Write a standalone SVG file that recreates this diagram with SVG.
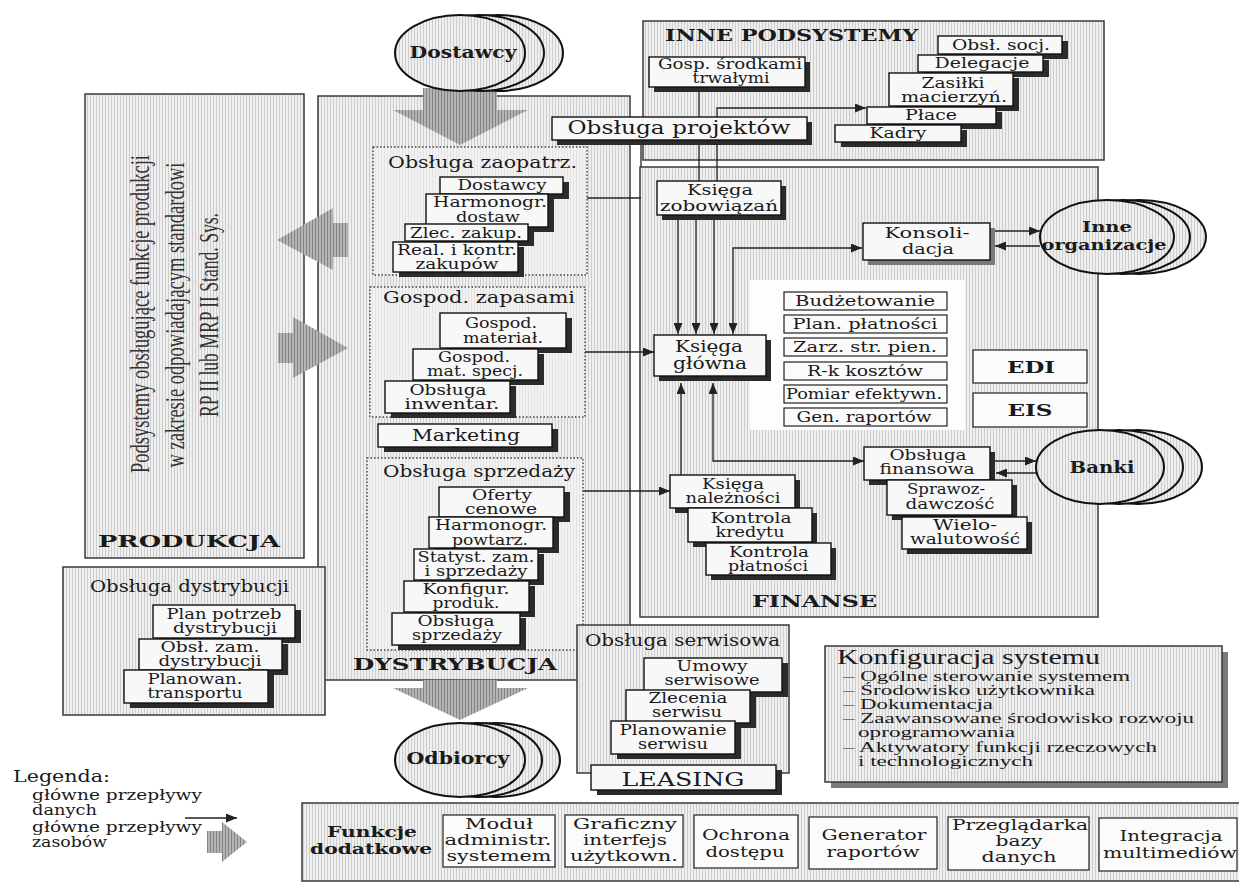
<svg xmlns="http://www.w3.org/2000/svg" width="1239" height="884" viewBox="0 0 1239 884">
<defs>
  <!-- screen tone used for panels and ellipses -->
  <pattern id="tone" width="3" height="3" patternUnits="userSpaceOnUse">
    <rect width="3" height="3" fill="#efefef"/>
    <rect width="1" height="3" fill="#cdcdcd"/>
  </pattern>
  <pattern id="toneDark" width="3" height="3" patternUnits="userSpaceOnUse">
    <rect width="3" height="3" fill="#b4b4b4"/>
    <rect width="1" height="3" fill="#848484"/>
  </pattern>
  <marker id="ah" viewBox="0 0 11 9" refX="11" refY="4.5" markerWidth="11" markerHeight="9" markerUnits="userSpaceOnUse" orient="auto-start-reverse">
    <path d="M0,0 L11,4.5 L0,9 z" fill="#222"/>
  </marker>
</defs>
<style>
  .panel{fill:url(#tone);stroke:#3a3a3a;stroke-width:1.5}
  .dot{fill:#f3f3f3;fill-opacity:.6;stroke:#444;stroke-width:1.4;stroke-dasharray:1.5 2}
  .box{fill:#f8f8f8;stroke:#111;stroke-width:1.4}
  .sh{fill:#2b2b2b}
  .shl{fill:#7a7a7a}
  .plain{fill:#fbfbfb;stroke:#222;stroke-width:1.2}
  .ell{fill:url(#tone);stroke:#111;stroke-width:2}
  .big{fill:url(#toneDark)}
  .t{font-family:"DejaVu Serif",serif;font-size:14px;fill:#1a1a1a;text-anchor:middle}
  .l{text-anchor:start}
  .b{font-weight:bold}
  .m{font-size:16px}
  .n{font-size:15px}
  .xl{font-size:19px}
  .cfg{font-family:"Liberation Serif",serif;font-size:14px}
  .vt{font-family:"Liberation Serif",serif;font-size:27px;fill:#333;text-anchor:middle}
  .ln{fill:none;stroke:#222;stroke-width:1.3}
  .arr{marker-end:url(#ah)}
  .arr2{marker-start:url(#ah);marker-end:url(#ah)}
</style>

<!-- ===== large panels ===== -->
<g id="produkcja">
  <rect class="panel" x="85" y="94" width="219" height="464"/>
  <text class="vt" x="149" y="314" transform="rotate(-90 149 314)" textLength="318" lengthAdjust="spacingAndGlyphs">Podsystemy obsługujące funkcje produkcji</text>
  <text class="vt" x="184" y="315" transform="rotate(-90 184 315)" textLength="305" lengthAdjust="spacingAndGlyphs">w zakresie odpowiadającym standardowi</text>
  <text class="vt" x="218" y="315" transform="rotate(-90 218 315)" textLength="204" lengthAdjust="spacingAndGlyphs">RP II lub MRP II Stand. Sys.</text>
  <text class="t l b m" x="98" y="547" textLength="182" lengthAdjust="spacingAndGlyphs">PRODUKCJA</text>
</g>

<g id="dystrybucja">
  <rect class="panel" x="318" y="96" width="312" height="584"/>
  <text class="t l b m" x="353" y="670" textLength="204" lengthAdjust="spacingAndGlyphs">DYSTRYBUCJA</text>
</g>

<g id="inne-podsystemy">
  <rect class="panel" x="643" y="21" width="461" height="139"/>
  <text class="t l b m" x="665" y="41" textLength="253" lengthAdjust="spacingAndGlyphs">INNE PODSYSTEMY</text>
</g>

<g id="finanse">
  <rect class="panel" x="640" y="167" width="458" height="450"/>
  <rect x="750" y="280" width="215" height="150" fill="#fdfdfd"/>
  <text class="t l b m" x="752" y="607" textLength="125" lengthAdjust="spacingAndGlyphs">FINANSE</text>
</g>

<!-- ===== resource flows (thick grey arrows) ===== -->
<g id="flow-dostawcy"><polygon class="big" points="423,88 497,88 497,110 528,110 460,145 393,110 423,110"/></g>
<g id="flow-do-produkcji"><polygon class="big" points="348,223 348,257 333,257 333,270 277,240 333,208 333,223"/></g>
<g id="flow-z-produkcji"><polygon class="big" points="278,333 293,333 293,317 348,348 293,378 293,363 278,363"/></g>
<g id="flow-odbiorcy"><polygon class="big" points="423,680 497,680 497,688 528,688 460,720 393,688 423,688"/></g>

<!-- ===== external parties ===== -->
<g id="dostawcy">
  <ellipse class="ell" cx="498" cy="53" rx="65" ry="38"/>
  <ellipse class="ell" cx="479" cy="53" rx="65" ry="38"/>
  <ellipse class="ell" cx="460" cy="53" rx="65" ry="38"/>
  <text class="t b m" x="463" y="58" textLength="107" lengthAdjust="spacingAndGlyphs">Dostawcy</text>
</g>
<g id="odbiorcy">
  <ellipse class="ell" cx="495" cy="760" rx="65" ry="37"/>
  <ellipse class="ell" cx="477" cy="760" rx="65" ry="37"/>
  <ellipse class="ell" cx="460" cy="760" rx="65" ry="37"/>
  <text class="t b m" x="458" y="764" textLength="103" lengthAdjust="spacingAndGlyphs">Odbiorcy</text>
</g>
<g id="inne-organizacje">
  <ellipse class="ell" cx="1139" cy="237" rx="67" ry="37"/>
  <ellipse class="ell" cx="1123" cy="237" rx="67" ry="37"/>
  <ellipse class="ell" cx="1107" cy="237" rx="67" ry="37"/>
  <text class="t b n" x="1107" y="232" textLength="50" lengthAdjust="spacingAndGlyphs">Inne</text>
  <text class="t b n" x="1104" y="250" textLength="125" lengthAdjust="spacingAndGlyphs">organizacje</text>
</g>
<g id="banki">
  <ellipse class="ell" cx="1138" cy="467" rx="64" ry="37"/>
  <ellipse class="ell" cx="1119" cy="467" rx="64" ry="37"/>
  <ellipse class="ell" cx="1100" cy="467" rx="64" ry="37"/>
  <text class="t b m" x="1102" y="473" textLength="65" lengthAdjust="spacingAndGlyphs">Banki</text>
</g>

<!-- ===== data flows ===== -->
<g id="connectors">
  <path class="ln" d="M699 87V117"/>
  <path class="ln" d="M699 140V181M717 140V181"/>
  <path class="ln arr" d="M717 117V108H866"/>
  <path class="ln" d="M587 198H641"/>
  <path class="ln" d="M641 140V167"/>
  <path class="ln arr" d="M678 215V334"/>
  <path class="ln arr" d="M696 215V334"/>
  <path class="ln arr" d="M714 215V334"/>
  <path class="ln arr2" d="M733 334V248H862"/>
  <path class="ln arr" d="M585 352H654"/>
  <path class="ln arr" d="M583 491H670"/>
  <path class="ln arr" d="M681 475V383"/>
  <path class="ln arr2" d="M713 383V461H864"/>
  <path class="ln arr" d="M990 231H1040"/>
  <path class="ln arr" d="M1040 246H995"/>
  <path class="ln arr" d="M990 461H1036"/>
  <path class="ln arr" d="M1036 473H996"/>
</g>

<!-- ===== other subsystems ===== -->
<g id="gosp-srodkami">
  <rect class="sh" x="654" y="62" width="156" height="30"/>
  <rect class="box" x="649" y="57" width="156" height="30"/>
  <text class="t" x="730" y="69" textLength="144" lengthAdjust="spacingAndGlyphs">Gosp. środkami</text>
  <text class="t" x="731" y="83" textLength="77" lengthAdjust="spacingAndGlyphs">trwałymi</text>
</g>
<g id="obsl-socj">
  <rect class="sh" x="944" y="41" width="124" height="18"/>
  <rect class="box" x="938" y="36" width="124" height="18"/>
  <text class="t" x="1001" y="50" textLength="98" lengthAdjust="spacingAndGlyphs">Obsł. socj.</text>
</g>
<g id="delegacje">
  <rect class="sh" x="924" y="60" width="125" height="17"/>
  <rect class="box" x="918" y="55" width="125" height="17"/>
  <text class="t" x="982" y="68" textLength="95" lengthAdjust="spacingAndGlyphs">Delegacje</text>
</g>
<g id="zasilki">
  <rect class="sh" x="895" y="78" width="124" height="33"/>
  <rect class="box" x="889" y="73" width="124" height="33"/>
  <text class="t" x="953" y="88" textLength="63" lengthAdjust="spacingAndGlyphs">Zasiłki</text>
  <text class="t" x="954" y="102" textLength="106" lengthAdjust="spacingAndGlyphs">macierzyń.</text>
</g>
<g id="place">
  <rect class="sh" x="873" y="112" width="129" height="17"/>
  <rect class="box" x="867" y="107" width="129" height="17"/>
  <text class="t" x="931" y="120" textLength="52" lengthAdjust="spacingAndGlyphs">Płace</text>
</g>
<g id="kadry">
  <rect class="sh" x="841" y="130" width="126" height="17"/>
  <rect class="box" x="835" y="125" width="126" height="17"/>
  <text class="t" x="898" y="138" textLength="57" lengthAdjust="spacingAndGlyphs">Kadry</text>
</g>
<g id="obsluga-projektow">
  <rect class="sh" x="557" y="122" width="255" height="23"/>
  <rect class="box" x="552" y="117" width="255" height="23"/>
  <text class="t xl" x="679" y="134" textLength="223" lengthAdjust="spacingAndGlyphs">Obsługa projektów</text>
</g>

<!-- ===== finance ===== -->
<g id="ksiega-zobowiazan">
  <rect class="sh" x="662" y="186" width="124" height="34"/>
  <rect class="box" x="657" y="181" width="124" height="34"/>
  <text class="t" x="720" y="195" textLength="66" lengthAdjust="spacingAndGlyphs">Księga</text>
  <text class="t" x="719" y="211" textLength="118" lengthAdjust="spacingAndGlyphs">zobowiązań</text>
</g>
<g id="konsolidacja">
  <rect class="shl" x="868" y="228" width="127" height="37"/>
  <rect class="box" x="863" y="223" width="127" height="37"/>
  <text class="t n" x="927" y="238" textLength="85" lengthAdjust="spacingAndGlyphs">Konsoli-</text>
  <text class="t n" x="928" y="254" textLength="52" lengthAdjust="spacingAndGlyphs">dacja</text>
</g>
<g id="ksiega-glowna">
  <rect class="sh" x="659" y="340" width="112" height="41"/>
  <rect class="box" x="654" y="335" width="112" height="41"/>
  <text class="t m" x="709" y="352" textLength="68" lengthAdjust="spacingAndGlyphs">Księga</text>
  <text class="t m" x="710" y="369" textLength="74" lengthAdjust="spacingAndGlyphs">główna</text>
</g>
<g id="budzetowanie">
  <rect class="plain" x="784" y="292" width="163" height="18"/>
  <text class="t" x="865" y="306" textLength="140" lengthAdjust="spacingAndGlyphs">Budżetowanie</text>
</g>
<g id="plan-platnosci">
  <rect class="plain" x="784" y="315" width="163" height="18"/>
  <text class="t" x="865" y="329" textLength="145" lengthAdjust="spacingAndGlyphs">Plan. płatności</text>
</g>
<g id="zarz-str-pien">
  <rect class="plain" x="784" y="338" width="163" height="18"/>
  <text class="t" x="865" y="352" textLength="144" lengthAdjust="spacingAndGlyphs">Zarz. str. pien.</text>
</g>
<g id="rk-kosztow">
  <rect class="plain" x="784" y="362" width="163" height="18"/>
  <text class="t" x="865" y="376" textLength="116" lengthAdjust="spacingAndGlyphs">R-k kosztów</text>
</g>
<g id="pomiar">
  <rect class="plain" x="784" y="385" width="163" height="18"/>
  <text class="t" x="864" y="399" textLength="156" lengthAdjust="spacingAndGlyphs">Pomiar efektywn.</text>
</g>
<g id="gen-raportow">
  <rect class="plain" x="784" y="408" width="163" height="18"/>
  <text class="t" x="864" y="422" textLength="135" lengthAdjust="spacingAndGlyphs">Gen. raportów</text>
</g>
<g id="edi">
  <rect class="plain" x="973" y="350" width="114" height="33"/>
  <text class="t b m" x="1031" y="373" textLength="48" lengthAdjust="spacingAndGlyphs">EDI</text>
</g>
<g id="eis">
  <rect class="plain" x="973" y="393" width="114" height="34"/>
  <text class="t b m" x="1030" y="416" textLength="45" lengthAdjust="spacingAndGlyphs">EIS</text>
</g>
<g id="ksiega-naleznosci">
  <rect class="sh" x="675" y="480" width="125" height="33"/>
  <rect class="box" x="670" y="475" width="125" height="33"/>
  <text class="t" x="733" y="489" textLength="62" lengthAdjust="spacingAndGlyphs">Księga</text>
  <text class="t" x="733" y="503" textLength="95" lengthAdjust="spacingAndGlyphs">należności</text>
</g>
<g id="kontrola-kredytu">
  <rect class="sh" x="693" y="513" width="124" height="34"/>
  <rect class="box" x="688" y="508" width="124" height="34"/>
  <text class="t" x="751" y="523" textLength="81" lengthAdjust="spacingAndGlyphs">Kontrola</text>
  <text class="t" x="750" y="537" textLength="69" lengthAdjust="spacingAndGlyphs">kredytu</text>
</g>
<g id="kontrola-platnosci">
  <rect class="sh" x="711" y="548" width="125" height="32"/>
  <rect class="box" x="706" y="543" width="125" height="32"/>
  <text class="t" x="769" y="557" textLength="80" lengthAdjust="spacingAndGlyphs">Kontrola</text>
  <text class="t" x="768" y="571" textLength="80" lengthAdjust="spacingAndGlyphs">płatności</text>
</g>
<g id="obsluga-finansowa">
  <rect class="sh" x="869" y="452" width="126" height="33"/>
  <rect class="box" x="864" y="447" width="126" height="33"/>
  <text class="t" x="928" y="460" textLength="77" lengthAdjust="spacingAndGlyphs">Obsługa</text>
  <text class="t" x="927" y="474" textLength="95" lengthAdjust="spacingAndGlyphs">finansowa</text>
</g>
<g id="sprawozdawczosc">
  <rect class="sh" x="892" y="485" width="125" height="35"/>
  <rect class="box" x="887" y="480" width="125" height="35"/>
  <text class="t" x="946" y="494" textLength="78" lengthAdjust="spacingAndGlyphs">Sprawoz-</text>
  <text class="t" x="950" y="509" textLength="89" lengthAdjust="spacingAndGlyphs">dawczość</text>
</g>
<g id="wielowalutowosc">
  <rect class="sh" x="907" y="522" width="125" height="32"/>
  <rect class="box" x="902" y="517" width="125" height="32"/>
  <text class="t" x="965" y="530" textLength="64" lengthAdjust="spacingAndGlyphs">Wielo-</text>
  <text class="t" x="965" y="544" textLength="110" lengthAdjust="spacingAndGlyphs">walutowość</text>
</g>

<!-- ===== distribution: purchasing ===== -->
<g id="obsluga-zaopatrz">
  <rect class="dot" x="373" y="147" width="214" height="128"/>
  <text class="t l m" x="388" y="168" textLength="189" lengthAdjust="spacingAndGlyphs">Obsługa zaopatrz.</text>
</g>
<g id="dostawcy-mod">
  <rect class="sh" x="446" y="182" width="123" height="17"/>
  <rect class="box" x="440" y="177" width="123" height="17"/>
  <text class="t" x="502" y="190" textLength="89" lengthAdjust="spacingAndGlyphs">Dostawcy</text>
</g>
<g id="harmonogr-dostaw">
  <rect class="sh" x="432" y="199" width="122" height="33"/>
  <rect class="box" x="426" y="194" width="122" height="33"/>
  <text class="t" x="490" y="207" textLength="114" lengthAdjust="spacingAndGlyphs">Harmonogr.</text>
  <text class="t" x="488" y="222" textLength="64" lengthAdjust="spacingAndGlyphs">dostaw</text>
</g>
<g id="zlec-zakup">
  <rect class="sh" x="411" y="229" width="123" height="17"/>
  <rect class="box" x="405" y="224" width="123" height="17"/>
  <text class="t" x="466" y="238" textLength="112" lengthAdjust="spacingAndGlyphs">Zlec. zakup.</text>
</g>
<g id="real-kontr">
  <rect class="sh" x="399" y="247" width="125" height="30"/>
  <rect class="box" x="393" y="242" width="125" height="30"/>
  <text class="t" x="457" y="255" textLength="120" lengthAdjust="spacingAndGlyphs">Real. i kontr.</text>
  <text class="t" x="457" y="269" textLength="83" lengthAdjust="spacingAndGlyphs">zakupów</text>
</g>

<!-- ===== distribution: stock ===== -->
<g id="gospod-zapasami">
  <rect class="dot" x="370" y="287" width="215" height="130"/>
  <text class="t l m" x="383" y="303" textLength="192" lengthAdjust="spacingAndGlyphs">Gospod. zapasami</text>
</g>
<g id="gospod-material">
  <rect class="sh" x="446" y="318" width="126" height="35"/>
  <rect class="box" x="440" y="313" width="126" height="35"/>
  <text class="t" x="501" y="328" textLength="72" lengthAdjust="spacingAndGlyphs">Gospod.</text>
  <text class="t" x="503" y="343" textLength="80" lengthAdjust="spacingAndGlyphs">materiał.</text>
</g>
<g id="gospod-specj">
  <rect class="sh" x="419" y="354" width="125" height="31"/>
  <rect class="box" x="413" y="349" width="125" height="31"/>
  <text class="t" x="474" y="362" textLength="72" lengthAdjust="spacingAndGlyphs">Gospod.</text>
  <text class="t" x="475" y="376" textLength="96" lengthAdjust="spacingAndGlyphs">mat. specj.</text>
</g>
<g id="obsluga-inwentar">
  <rect class="sh" x="391" y="386" width="125" height="32"/>
  <rect class="box" x="385" y="381" width="125" height="32"/>
  <text class="t" x="448" y="395" textLength="77" lengthAdjust="spacingAndGlyphs">Obsługa</text>
  <text class="t" x="452" y="409" textLength="95" lengthAdjust="spacingAndGlyphs">inwentar.</text>
</g>
<g id="marketing">
  <rect class="sh" x="384" y="429" width="174" height="23"/>
  <rect class="box" x="378" y="424" width="174" height="23"/>
  <text class="t m" x="466" y="441" textLength="108" lengthAdjust="spacingAndGlyphs">Marketing</text>
</g>

<!-- ===== distribution: sales ===== -->
<g id="obsluga-sprzedazy-grupa">
  <rect class="dot" x="367" y="458" width="216" height="192"/>
  <text class="t l m" x="383" y="477" textLength="192" lengthAdjust="spacingAndGlyphs">Obsługa sprzedaży</text>
</g>
<g id="oferty-cenowe">
  <rect class="sh" x="445" y="492" width="125" height="30"/>
  <rect class="box" x="439" y="487" width="125" height="30"/>
  <text class="t" x="502" y="500" textLength="60" lengthAdjust="spacingAndGlyphs">Oferty</text>
  <text class="t" x="501" y="514" textLength="72" lengthAdjust="spacingAndGlyphs">cenowe</text>
</g>
<g id="harmonogr-powtarz">
  <rect class="sh" x="435" y="522" width="124" height="31"/>
  <rect class="box" x="429" y="517" width="124" height="31"/>
  <text class="t" x="491" y="530" textLength="112" lengthAdjust="spacingAndGlyphs">Harmonogr.</text>
  <text class="t" x="490" y="545" textLength="76" lengthAdjust="spacingAndGlyphs">powtarz.</text>
</g>
<g id="statyst">
  <rect class="sh" x="420" y="554" width="124" height="31"/>
  <rect class="box" x="414" y="549" width="124" height="31"/>
  <text class="t" x="476" y="562" textLength="117" lengthAdjust="spacingAndGlyphs">Statyst. zam.</text>
  <text class="t" x="476" y="576" textLength="103" lengthAdjust="spacingAndGlyphs">i sprzedaży</text>
</g>
<g id="konfigur-produk">
  <rect class="sh" x="410" y="586" width="125" height="31"/>
  <rect class="box" x="404" y="581" width="125" height="31"/>
  <text class="t" x="466" y="594" textLength="87" lengthAdjust="spacingAndGlyphs">Konfigur.</text>
  <text class="t" x="466" y="608" textLength="67" lengthAdjust="spacingAndGlyphs">produk.</text>
</g>
<g id="obsluga-sprzedazy">
  <rect class="sh" x="398" y="618" width="128" height="32"/>
  <rect class="box" x="392" y="613" width="128" height="32"/>
  <text class="t" x="456" y="626" textLength="77" lengthAdjust="spacingAndGlyphs">Obsługa</text>
  <text class="t" x="457" y="640" textLength="90" lengthAdjust="spacingAndGlyphs">sprzedaży</text>
</g>

<!-- ===== distribution logistics ===== -->
<g id="obsluga-dystrybucji">
  <rect class="panel" x="63" y="567" width="262" height="148"/>
  <text class="t l m" x="90" y="592" textLength="199" lengthAdjust="spacingAndGlyphs">Obsługa dystrybucji</text>
</g>
<g id="plan-potrzeb">
  <rect class="sh" x="159" y="610" width="142" height="33"/>
  <rect class="box" x="153" y="605" width="142" height="33"/>
  <text class="t" x="224" y="619" textLength="115" lengthAdjust="spacingAndGlyphs">Plan potrzeb</text>
  <text class="t" x="225" y="633" textLength="104" lengthAdjust="spacingAndGlyphs">dystrybucji</text>
</g>
<g id="obsl-zam-dystr">
  <rect class="sh" x="145" y="644" width="143" height="31"/>
  <rect class="box" x="139" y="639" width="143" height="31"/>
  <text class="t" x="210" y="652" textLength="99" lengthAdjust="spacingAndGlyphs">Obsł. zam.</text>
  <text class="t" x="210" y="666" textLength="103" lengthAdjust="spacingAndGlyphs">dystrybucji</text>
</g>
<g id="planowan-transportu">
  <rect class="sh" x="130" y="675" width="144" height="33"/>
  <rect class="box" x="124" y="670" width="144" height="33"/>
  <text class="t" x="195" y="684" textLength="95" lengthAdjust="spacingAndGlyphs">Planowan.</text>
  <text class="t" x="195" y="698" textLength="95" lengthAdjust="spacingAndGlyphs">transportu</text>
</g>

<!-- ===== service ===== -->
<g id="obsluga-serwisowa">
  <rect class="panel" x="577" y="625" width="212" height="148"/>
  <text class="t l m" x="585" y="646" textLength="195" lengthAdjust="spacingAndGlyphs">Obsługa serwisowa</text>
</g>
<g id="umowy-serwisowe">
  <rect class="sh" x="650" y="663" width="138" height="34"/>
  <rect class="box" x="644" y="658" width="138" height="34"/>
  <text class="t" x="712" y="671" textLength="71" lengthAdjust="spacingAndGlyphs">Umowy</text>
  <text class="t" x="712" y="685" textLength="95" lengthAdjust="spacingAndGlyphs">serwisowe</text>
</g>
<g id="zlecenia-serwisu">
  <rect class="sh" x="632" y="695" width="124" height="33"/>
  <rect class="box" x="626" y="690" width="124" height="33"/>
  <text class="t" x="688" y="703" textLength="79" lengthAdjust="spacingAndGlyphs">Zlecenia</text>
  <text class="t" x="687" y="717" textLength="70" lengthAdjust="spacingAndGlyphs">serwisu</text>
</g>
<g id="planowanie-serwisu">
  <rect class="sh" x="617" y="726" width="124" height="33"/>
  <rect class="box" x="611" y="721" width="124" height="33"/>
  <text class="t" x="673" y="735" textLength="107" lengthAdjust="spacingAndGlyphs">Planowanie</text>
  <text class="t" x="673" y="749" textLength="70" lengthAdjust="spacingAndGlyphs">serwisu</text>
</g>
<g id="leasing">
  <rect class="sh" x="597" y="770" width="185" height="25"/>
  <rect class="box" x="591" y="765" width="185" height="25"/>
  <text class="t xl" x="683" y="786" textLength="123" lengthAdjust="spacingAndGlyphs">LEASING</text>
</g>

<!-- ===== system configuration ===== -->
<g id="konfiguracja">
  <rect class="shl" x="831" y="652" width="397" height="136"/>
  <rect class="panel" x="825" y="646" width="397" height="136"/>
  <text class="t l cfg" x="837" y="664" style="font-size:20px" textLength="263" lengthAdjust="spacingAndGlyphs">Konfiguracja systemu</text>
  <text class="t l cfg" x="843" y="681" textLength="287" lengthAdjust="spacingAndGlyphs">– Ogólne sterowanie systemem</text>
  <text class="t l cfg" x="843" y="695" textLength="252" lengthAdjust="spacingAndGlyphs">– Środowisko użytkownika</text>
  <text class="t l cfg" x="843" y="709" textLength="150" lengthAdjust="spacingAndGlyphs">– Dokumentacja</text>
  <text class="t l cfg" x="843" y="723" textLength="351" lengthAdjust="spacingAndGlyphs">– Zaawansowane środowisko rozwoju</text>
  <text class="t l cfg" x="858" y="737" textLength="157" lengthAdjust="spacingAndGlyphs">oprogramowania</text>
  <text class="t l cfg" x="843" y="752" textLength="314" lengthAdjust="spacingAndGlyphs">– Aktywatory funkcji rzeczowych</text>
  <text class="t l cfg" x="858" y="766" textLength="175" lengthAdjust="spacingAndGlyphs">i technologicznych</text>
</g>

<!-- ===== additional functions ===== -->
<g id="funkcje-dodatkowe">
  <rect class="panel" x="302" y="803" width="940" height="78"/>
  <text class="t b n" x="372" y="837" textLength="90" lengthAdjust="spacingAndGlyphs">Funkcje</text>
  <text class="t b n" x="371" y="854" textLength="122" lengthAdjust="spacingAndGlyphs">dodatkowe</text>
</g>
<g id="modul-administr">
  <rect class="plain" x="443" y="815" width="112" height="52"/>
  <text class="t n" x="499" y="829" textLength="68" lengthAdjust="spacingAndGlyphs">Moduł</text>
  <text class="t n" x="498" y="845" textLength="107" lengthAdjust="spacingAndGlyphs">administr.</text>
  <text class="t n" x="499" y="861" textLength="105" lengthAdjust="spacingAndGlyphs">systemem</text>
</g>
<g id="graficzny-interfejs">
  <rect class="plain" x="565" y="815" width="118" height="52"/>
  <text class="t n" x="625" y="829" textLength="104" lengthAdjust="spacingAndGlyphs">Graficzny</text>
  <text class="t n" x="625" y="845" textLength="84" lengthAdjust="spacingAndGlyphs">interfejs</text>
  <text class="t n" x="624" y="861" textLength="108" lengthAdjust="spacingAndGlyphs">użytkown.</text>
</g>
<g id="ochrona-dostepu">
  <rect class="plain" x="694" y="815" width="104" height="53"/>
  <text class="t n" x="746" y="840" textLength="88" lengthAdjust="spacingAndGlyphs">Ochrona</text>
  <text class="t n" x="745" y="857" textLength="79" lengthAdjust="spacingAndGlyphs">dostępu</text>
</g>
<g id="generator-raportow">
  <rect class="plain" x="809" y="817" width="128" height="52"/>
  <text class="t n" x="874" y="840" textLength="105" lengthAdjust="spacingAndGlyphs">Generator</text>
  <text class="t n" x="873" y="857" textLength="93" lengthAdjust="spacingAndGlyphs">raportów</text>
</g>
<g id="przegladarka">
  <rect class="plain" x="948" y="817" width="141" height="53"/>
  <text class="t n" x="1020" y="830" textLength="136" lengthAdjust="spacingAndGlyphs">Przeglądarka</text>
  <text class="t n" x="1019" y="846" textLength="47" lengthAdjust="spacingAndGlyphs">bazy</text>
  <text class="t n" x="1019" y="862" textLength="75" lengthAdjust="spacingAndGlyphs">danych</text>
</g>
<g id="integracja">
  <rect class="plain" x="1099" y="818" width="138" height="53"/>
  <text class="t n" x="1171" y="841" textLength="103" lengthAdjust="spacingAndGlyphs">Integracja</text>
  <text class="t n" x="1170" y="858" textLength="134" lengthAdjust="spacingAndGlyphs">multimediów</text>
</g>

<!-- ===== legend ===== -->
<g id="legenda">
  <text class="t l m" x="13" y="782" textLength="97" lengthAdjust="spacingAndGlyphs">Legenda:</text>
  <text class="t l" x="32" y="800" textLength="170" lengthAdjust="spacingAndGlyphs">główne przepływy</text>
  <text class="t l" x="32" y="815" textLength="65" lengthAdjust="spacingAndGlyphs">danych</text>
  <text class="t l" x="32" y="832" textLength="170" lengthAdjust="spacingAndGlyphs">główne przepływy</text>
  <text class="t l" x="32" y="847" textLength="75" lengthAdjust="spacingAndGlyphs">zasobów</text>
  <path class="ln arr" d="M185 818H237"/>
  <polygon class="big" points="207,831 222,831 222,822 247,842 222,862 222,853 207,853"/>
</g>
</svg>
